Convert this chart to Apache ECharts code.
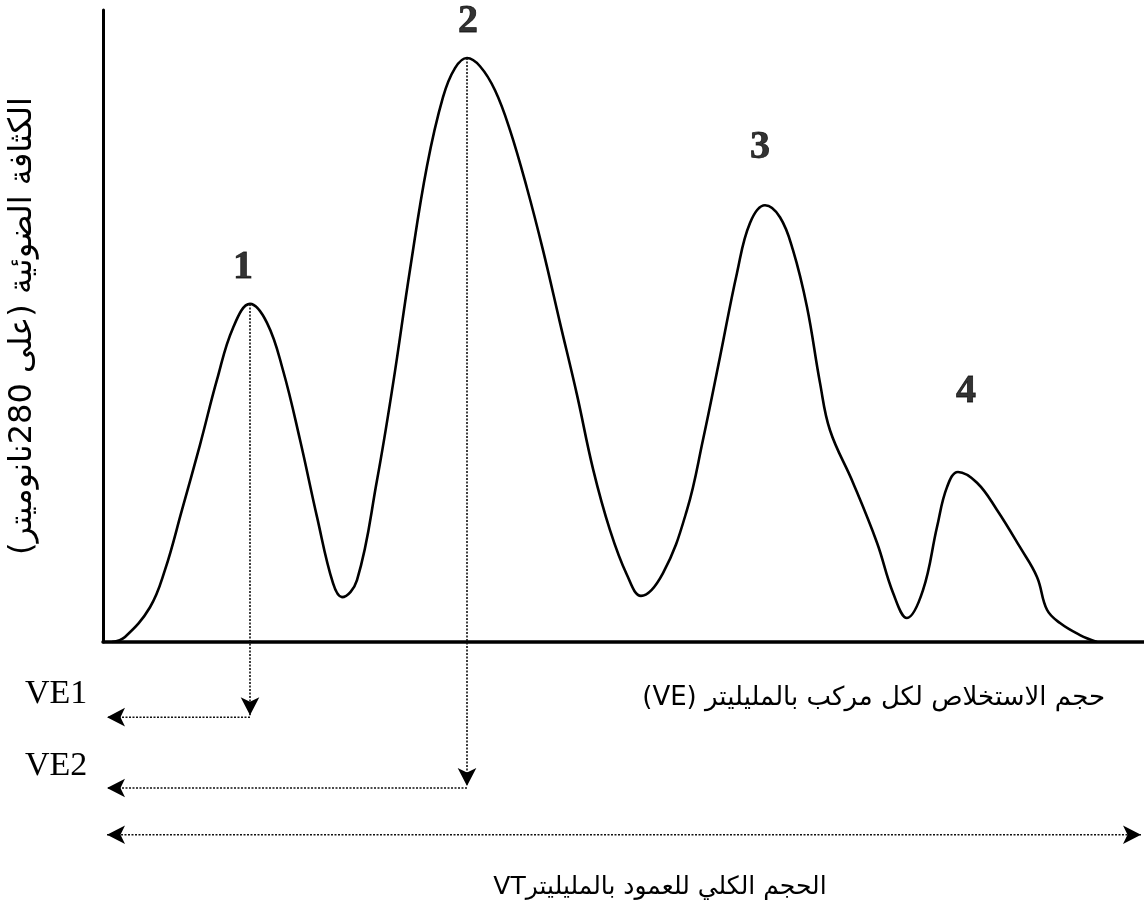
<!DOCTYPE html>
<html>
<head>
<meta charset="utf-8">
<script src="https://cdn.jsdelivr.net/npm/echarts@6/dist/echarts.min.js"></script>
<style>
  html, body { margin: 0; padding: 0; background: #fff; }
  #main { width: 1144px; height: 913px; direction: rtl; }
</style>
</head>
<body>
<div id="main"></div>
<script>
// elution volume (arbitrary units) and optical density
const volume = [
    0.9, 2.2, 4.7, 6.2, 7.9, 9.7, 11.4, 13.0, 14.7, 16.4, 18.0, 19.7, 21.4, 23.0, 23.9,
    25.4, 27.4, 29.0, 30.7, 32.4, 34.0, 35.2, 36.4, 37.7, 39.2, 40.7, 42.4, 44.0, 45.7,
    47.4, 49.0, 50.7, 52.4, 53.8, 56.0, 58.4, 60.0, 61.7, 63.4, 64.7, 66.2, 67.7, 69.0,
    70.4, 71.7, 72.7, 75.0, 77.4, 79.0, 80.4, 82.0, 83.4, 84.4, 85.5, 87.4, 89.4, 91.7,
    93.4, 94.4, 95.7, 97.7, 99.4
];
const density = [
    0, 0.8, 5.5, 11.4, 20.9, 31.2, 41.5, 49.7, 53.5, 50.5, 43.0, 32.0, 19.8, 9.3, 7.1,
    9.8, 25.6, 40.8, 58.9, 75.3, 86.2, 90.8, 92.4, 91.1, 87.3, 81.0, 71.8, 62.0, 50.5,
    39.1, 27.4, 17.7, 10.6, 7.3, 10.9, 20.9, 32.0, 45.1, 58.4, 66.3, 69.1, 67.2, 62.0,
    53.0, 41.0, 33.5, 25.2, 15.7, 7.8, 3.8, 8.2, 18.2, 24.5, 26.9, 25.2, 20.9, 15.0,
    10.3, 5.1, 3.0, 1.1, 0
];

const peakLabels = ['1', '2', '3', '4'];
const peakLabelX = [14.0, 36.5, 65.7, 86.3];
const peakLabelY = [59.2, 98.1, 78.2, 39.6];

// VE1 / VE2 drop lines: peak volume, peak height, arrow tip level, horizontal level
const ve1 = [14.7, 53.5, -11.6, -11.9];
const ve2 = [36.4, 92.4, -22.8, -23.1];
const vtLevel = -30.5;
const axisStart = 0.4;
const axisEnd = 103.8;

const yName = 'الكثافة الضوئية (على 280نانوميتر)';
const veName = 'حجم الاستخلاص لكل مركب بالمليليتر (VE)';
const vtName = 'الحجم الكلي للعمود بالمليليترVT';

const dotted = { type: [2, 1.5], width: 1.6, color: '#111' };
const arrowSize = [14, 18];

function dropArrow(v) {
    return [
        {
            type: 'line', clip: false, silent: true, symbol: 'none', symbolKeepAspect: true,
            lineStyle: dotted, itemStyle: { color: '#000' },
            data: [
                { value: [v[0], v[1]], symbol: 'none' },
                { value: [v[0], v[2]], symbol: 'arrow', symbolSize: arrowSize, symbolRotate: 180 }
            ]
        },
        {
            type: 'line', clip: false, silent: true, symbol: 'none', symbolKeepAspect: true,
            lineStyle: dotted, itemStyle: { color: '#000' },
            data: [
                { value: [v[0], v[3]], symbol: 'none' },
                { value: [axisStart, v[3]], symbol: 'arrow', symbolSize: arrowSize, symbolRotate: 90 }
            ]
        }
    ];
}

const chart = echarts.init(document.getElementById('main'));

chart.setOption({
    animation: false,
    backgroundColor: '#fff',
    grid: { left: 103, right: 0, top: 10, bottom: 271, outerBoundsMode: 'none', containLabel: false },
    xAxis: {
        type: 'value', min: 0, max: 104.1,
        axisLine: { show: true, lineStyle: { color: '#000', width: 3.5 } },
        axisTick: { show: false }, axisLabel: { show: false }, splitLine: { show: false }
    },
    yAxis: {
        type: 'value', min: 0, max: 100,
        name: yName, nameLocation: 'middle', nameGap: 64, nameRotate: 90,
        nameTextStyle: { color: '#000', fontSize: 32, fontFamily: 'DejaVu Sans' },
        axisLine: { show: true, lineStyle: { color: '#000', width: 3 } },
        axisTick: { show: false }, axisLabel: { show: false }, splitLine: { show: false }
    },
    series: [
        {
            type: 'line', smooth: 0.4, symbol: 'none', silent: true,
            lineStyle: { color: '#000', width: 2.6 },
            data: volume.map((v, i) => [v, density[i]])
        },
        {
            type: 'scatter', symbolSize: 0, silent: true,
            label: {
                show: true, position: 'inside', color: '#000',
                textBorderColor: '#000', textBorderWidth: 0.8,
                fontFamily: 'Liberation Serif', fontWeight: 'bold', fontSize: 40,
                formatter: p => p.name
            },
            data: peakLabels.map((n, i) => ({ name: n, value: [peakLabelX[i], peakLabelY[i]] }))
        },
        ...dropArrow(ve1),
        ...dropArrow(ve2),
        {
            type: 'line', clip: false, silent: true, symbol: 'none', symbolKeepAspect: true,
            lineStyle: dotted, itemStyle: { color: '#000' },
            data: [
                { value: [axisStart, vtLevel], symbol: 'arrow', symbolSize: arrowSize, symbolRotate: 90 },
                { value: [axisEnd, vtLevel], symbol: 'arrow', symbolSize: arrowSize, symbolRotate: -90 }
            ]
        }
    ],
    graphic: [
        { type: 'text', style: { x: 25, y: 694, text: 'VE1', font: '34px "Liberation Serif"', fill: '#000', textVerticalAlign: 'middle' } },
        { type: 'text', style: { x: 25, y: 766, text: 'VE2', font: '34px "Liberation Serif"', fill: '#000', textVerticalAlign: 'middle' } },
        { type: 'text', style: { x: 1105, y: 698, text: veName, font: '26px "DejaVu Sans"', fill: '#000', textAlign: 'right', textVerticalAlign: 'middle' } },
        { type: 'text', style: { x: 660, y: 887, text: vtName, font: '25px "DejaVu Sans"', fill: '#000', textAlign: 'center', textVerticalAlign: 'middle' } }
    ]
});
</script>
</body>
</html>
